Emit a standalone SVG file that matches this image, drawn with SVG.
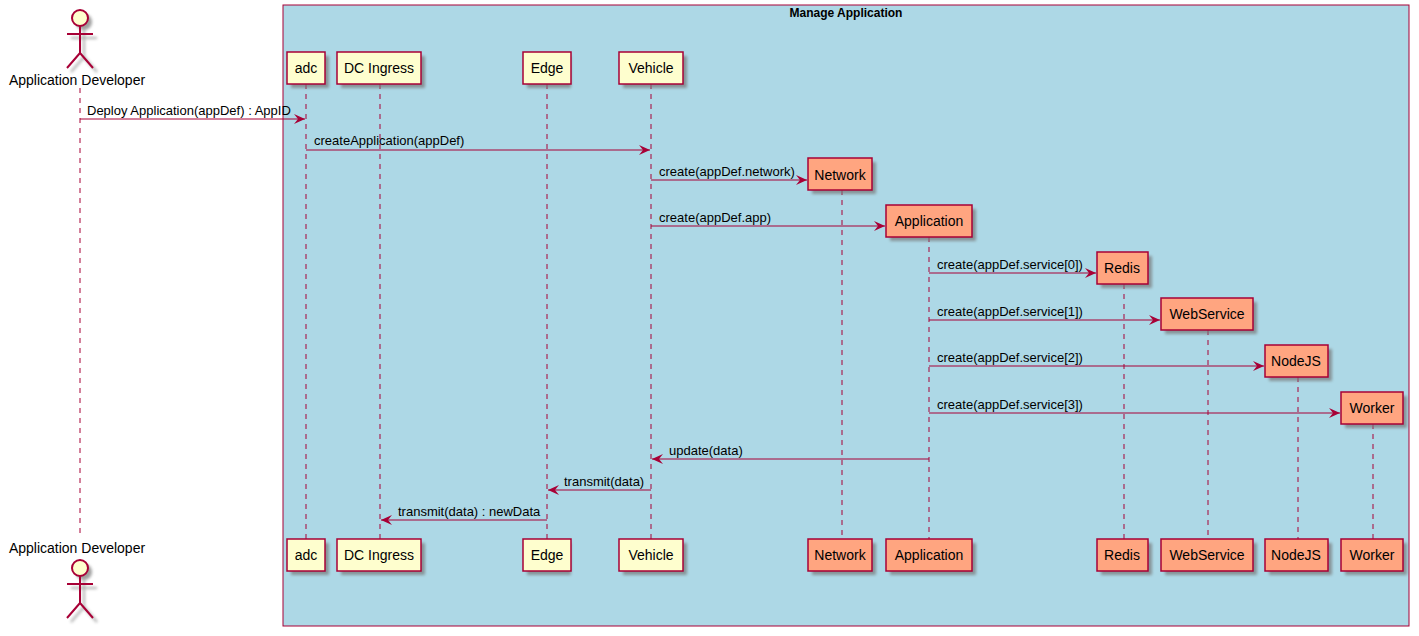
<svg xmlns="http://www.w3.org/2000/svg" width="1419" height="636" viewBox="0 0 1419 636">
<defs>
<filter id="sh" x="-20%" y="-20%" width="150%" height="150%"><feGaussianBlur stdDeviation="1.5"/></filter>
<marker id="ar" markerWidth="12" markerHeight="10" refX="11" refY="5" orient="auto" markerUnits="userSpaceOnUse"><path d="M0,0 L11,5 L0,10 L4,5 Z" fill="#A80036"/></marker>
</defs>
<style>
text{font-family:"Liberation Sans",Arial,sans-serif;fill:#000}
.p{fill:#FEFECE;stroke:#A80036;stroke-width:1.5}
.c{fill:#FFA580;stroke:#A80036;stroke-width:1.5}
.s{fill:#777;opacity:.7;filter:url(#sh)}
.pt{font-size:14px;text-anchor:middle}
.m{font-size:13px}
.ll{stroke:#A80036;stroke-dasharray:5,5;stroke-width:1}
.ms{stroke:#A80036;stroke-width:1;marker-end:url(#ar)}
</style>
<rect x="283" y="5" width="1126" height="621" fill="#ADD8E6" stroke="#A80036" stroke-width="1"/>
<text x="846" y="17" font-size="12" font-weight="bold" text-anchor="middle">Manage Application</text>
<g id="lifelines">
<line class="ll" x1="80" y1="88" x2="80" y2="538"/>
<line class="ll" x1="306" y1="84" x2="306" y2="539"/>
<line class="ll" x1="380" y1="84" x2="380" y2="539"/>
<line class="ll" x1="547" y1="84" x2="547" y2="539"/>
<line class="ll" x1="651" y1="84" x2="651" y2="539"/>
<line class="ll" x1="842" y1="190" x2="842" y2="539"/>
<line class="ll" x1="929" y1="237" x2="929" y2="539"/>
<line class="ll" x1="1124" y1="284" x2="1124" y2="539"/>
<line class="ll" x1="1208" y1="330" x2="1208" y2="539"/>
<line class="ll" x1="1298" y1="377" x2="1298" y2="539"/>
<line class="ll" x1="1373" y1="424" x2="1373" y2="539"/>
</g>
<g id="actor-top">
<g transform="translate(80,0)">
<g transform="translate(4,4)" class="s"><circle cx="0" cy="18" r="8"/><path d="M0,26V53M-13,34H13M0,53L-13,68M0,53L13,68" stroke="#888" stroke-width="2" fill="none"/></g>
<circle cx="0" cy="18" r="8" fill="#FEFECE" stroke="#A80036" stroke-width="2"/>
<path d="M0,26V53M-13,34H13M0,53L-13,68M0,53L13,68" stroke="#A80036" stroke-width="2" fill="none"/>
</g>
<text class="pt" x="77" y="85">Application Developer</text>
</g>
<g id="actor-bottom">
<text class="pt" x="77" y="553">Application Developer</text>
<g transform="translate(80,558)">
<g transform="translate(4,4)" class="s"><circle cx="0" cy="10" r="8"/><path d="M0,18V45M-13,26H13M0,45L-13,60M0,45L13,60" stroke="#888" stroke-width="2" fill="none"/></g>
<circle cx="0" cy="10" r="8" fill="#FEFECE" stroke="#A80036" stroke-width="2"/>
<path d="M0,18V45M-13,26H13M0,45L-13,60M0,45L13,60" stroke="#A80036" stroke-width="2" fill="none"/>
</g>
</g>
<g id="adc"><rect class="s" x="291" y="56" width="38" height="32"/><rect class="p" x="287" y="52" width="38" height="32"/><text class="pt" x="306" y="73">adc</text>
<rect class="s" x="291" y="543" width="38" height="32"/><rect class="p" x="287" y="539" width="38" height="32"/><text class="pt" x="306" y="560">adc</text></g>
<g id="dcingress"><rect class="s" x="341" y="56" width="84" height="32"/><rect class="p" x="337" y="52" width="84" height="32"/><text class="pt" x="379" y="73">DC Ingress</text>
<rect class="s" x="341" y="543" width="84" height="32"/><rect class="p" x="337" y="539" width="84" height="32"/><text class="pt" x="379" y="560">DC Ingress</text></g>
<g id="edge"><rect class="s" x="527" y="56" width="44" height="32"/><rect class="p" x="523" y="52" width="48" height="32"/><text class="pt" x="547" y="73">Edge</text>
<rect class="s" x="527" y="543" width="44" height="32"/><rect class="p" x="523" y="539" width="48" height="32"/><text class="pt" x="547" y="560">Edge</text></g>
<g id="vehicle"><rect class="s" x="623" y="56" width="64" height="32"/><rect class="p" x="619" y="52" width="64" height="32"/><text class="pt" x="651" y="73">Vehicle</text>
<rect class="s" x="623" y="543" width="64" height="32"/><rect class="p" x="619" y="539" width="64" height="32"/><text class="pt" x="651" y="560">Vehicle</text></g>
<g id="network"><rect class="s" x="812" y="162" width="64" height="32"/><rect class="c" x="808" y="158" width="64" height="32"/><text class="pt" x="840" y="180">Network</text>
<rect class="s" x="812" y="543" width="64" height="32"/><rect class="c" x="808" y="539" width="64" height="32"/><text class="pt" x="840" y="560">Network</text></g>
<g id="application"><rect class="s" x="890" y="209" width="86" height="32"/><rect class="c" x="886" y="205" width="86" height="32"/><text class="pt" x="929" y="226">Application</text>
<rect class="s" x="890" y="543" width="86" height="32"/><rect class="c" x="886" y="539" width="86" height="32"/><text class="pt" x="929" y="560">Application</text></g>
<g id="redis"><rect class="s" x="1101" y="256" width="51" height="32"/><rect class="c" x="1097" y="252" width="51" height="32"/><text class="pt" x="1122" y="273">Redis</text>
<rect class="s" x="1101" y="543" width="51" height="32"/><rect class="c" x="1097" y="539" width="51" height="32"/><text class="pt" x="1122" y="560">Redis</text></g>
<g id="webservice"><rect class="s" x="1165" y="302" width="92" height="32"/><rect class="c" x="1161" y="298" width="92" height="32"/><text class="pt" x="1207" y="319">WebService</text>
<rect class="s" x="1165" y="543" width="92" height="32"/><rect class="c" x="1161" y="539" width="92" height="32"/><text class="pt" x="1207" y="560">WebService</text></g>
<g id="nodejs"><rect class="s" x="1269" y="349" width="63" height="32"/><rect class="c" x="1265" y="345" width="63" height="32"/><text class="pt" x="1296" y="366">NodeJS</text>
<rect class="s" x="1269" y="543" width="63" height="32"/><rect class="c" x="1265" y="539" width="63" height="32"/><text class="pt" x="1296" y="560">NodeJS</text></g>
<g id="worker"><rect class="s" x="1345" y="396" width="62" height="32"/><rect class="c" x="1341" y="392" width="62" height="32"/><text class="pt" x="1372" y="413">Worker</text>
<rect class="s" x="1345" y="543" width="62" height="32"/><rect class="c" x="1341" y="539" width="62" height="32"/><text class="pt" x="1372" y="560">Worker</text></g>
<g id="connectors">
<line class="ms" x1="80" y1="119" x2="305" y2="119"/><text class="m" x="87" y="115">Deploy Application(appDef) : AppID</text>
<line class="ms" x1="306" y1="150" x2="650" y2="150"/><text class="m" x="314" y="145">createApplication(appDef)</text>
<line class="ms" x1="651" y1="180" x2="807" y2="180"/><text class="m" x="659" y="176">create(appDef.network)</text>
<line class="ms" x1="651" y1="226" x2="885" y2="226"/><text class="m" x="659" y="222">create(appDef.app)</text>
<line class="ms" x1="929" y1="273" x2="1096" y2="273"/><text class="m" x="937" y="269">create(appDef.service[0])</text>
<line class="ms" x1="929" y1="320" x2="1160" y2="320"/><text class="m" x="937" y="316">create(appDef.service[1])</text>
<line class="ms" x1="929" y1="366" x2="1264" y2="366"/><text class="m" x="937" y="362">create(appDef.service[2])</text>
<line class="ms" x1="929" y1="413" x2="1340" y2="413"/><text class="m" x="937" y="409">create(appDef.service[3])</text>
<line class="ms" x1="929" y1="459" x2="652" y2="459"/><text class="m" x="669" y="455">update(data)</text>
<line class="ms" x1="651" y1="490" x2="548" y2="490"/><text class="m" x="564" y="486">transmit(data)</text>
<line class="ms" x1="547" y1="520" x2="381" y2="520"/><text class="m" x="398" y="516">transmit(data) : newData</text>
</g>
</svg>
